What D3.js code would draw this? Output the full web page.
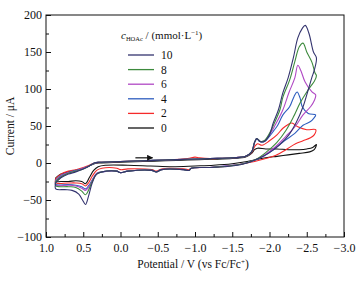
<!DOCTYPE html>
<html><head><meta charset="utf-8">
<script src="https://cdn.jsdelivr.net/npm/d3@7/dist/d3.min.js"></script>
<style>body{margin:0;background:#fff}svg{display:block}text{font-family:"Liberation Serif","Times New Roman",serif;fill:#111}</style>
</head><body><svg id="c" width="360" height="282"></svg>
<script>
// ---- data (potential V, current μA), each loop: forward scan then return scan ----
const concentrations = ["10", "8", "6", "4", "2", "0"];
const seriesColors = ["#34346f", "#3d8a3d", "#b048c4", "#2e5dbf", "#f52a2a", "#111111"];

const curve10 = [[0.87,-27],[0.80,-20],[0.70,-15],[0.60,-12],[0.50,-8],[0.42,-4],[0.35,0],[0.28,1],[0.0,2],[-0.3,3],[-0.6,4],[-0.9,5],[-1.2,6],[-1.5,7],[-1.68,9],[-1.76,15],[-1.80,28],[-1.83,33],[-1.87,29],[-1.93,29],[-2.0,38],[-2.05,54],[-2.12,72],[-2.18,95],[-2.25,115],[-2.32,142],[-2.38,169],[-2.44,182],[-2.48,186],[-2.53,175],[-2.59,150],[-2.63,142],
  [-2.60,125],[-2.57,116],[-2.52,99],[-2.45,76],[-2.36,55],[-2.26,38],[-2.14,25],[-2.0,14],[-1.85,6],[-1.70,0],[-1.5,-4],[-1.2,-6],[-0.95,-7],[-0.92,-10],[-0.85,-9],[-0.55,-9],[-0.48,-12],[-0.42,-10],[-0.1,-11],[0.0,-13],[0.05,-11],[0.25,-12],[0.32,-15],[0.38,-27],[0.43,-45],[0.47,-56],[0.51,-50],[0.56,-42],[0.65,-37],[0.75,-36],[0.87,-35]];
const curve8 = [[0.87,-25],[0.80,-19],[0.70,-14],[0.60,-11],[0.50,-8],[0.42,-4],[0.35,0],[0.28,1],[0.0,2],[-0.3,3],[-0.6,4],[-0.9,5],[-1.2,6],[-1.5,7],[-1.68,9],[-1.76,15],[-1.80,28],[-1.83,33],[-1.88,29],[-1.93,30],[-2.0,40],[-2.07,55],[-2.14,72],[-2.18,89],[-2.27,112],[-2.34,137],[-2.40,157],[-2.45,162],[-2.50,150],[-2.57,136],[-2.61,122],[-2.63,118],
  [-2.60,110],[-2.57,106],[-2.50,96],[-2.41,81],[-2.32,62],[-2.22,44],[-2.10,28],[-1.96,15],[-1.82,5],[-1.65,-1],[-1.45,-4],[-1.2,-6],[-0.95,-7],[-0.92,-10],[-0.85,-9],[-0.55,-9],[-0.48,-12],[-0.42,-10],[-0.1,-11],[0.0,-13],[0.05,-11],[0.25,-12],[0.32,-15],[0.38,-25],[0.43,-37],[0.47,-43],[0.52,-38],[0.60,-33],[0.70,-32],[0.87,-31]];
const curve6 = [[0.87,-24],[0.80,-18],[0.70,-13],[0.60,-11],[0.50,-7],[0.42,-4],[0.35,0],[0.28,1],[0.0,2],[-0.3,3],[-0.6,4],[-0.9,5],[-1.2,6],[-1.5,7],[-1.68,9],[-1.76,15],[-1.80,28],[-1.83,33],[-1.88,29],[-1.93,30],[-2.0,38],[-2.08,52],[-2.18,72],[-2.26,95],[-2.34,115],[-2.38,132],[-2.42,125],[-2.48,109],[-2.57,96],[-2.62,92],
  [-2.59,82],[-2.55,76],[-2.45,65],[-2.35,50],[-2.22,36],[-2.08,22],[-1.92,10],[-1.78,3],[-1.6,-2],[-1.4,-4],[-1.2,-6],[-0.95,-7],[-0.92,-10],[-0.85,-9],[-0.55,-9],[-0.48,-12],[-0.42,-10],[-0.1,-11],[0.0,-13],[0.05,-11],[0.25,-12],[0.32,-14],[0.38,-24],[0.43,-33],[0.47,-37],[0.52,-34],[0.60,-31],[0.70,-30],[0.87,-30]];
const curve4 = [[0.87,-23],[0.80,-17],[0.70,-13],[0.60,-10],[0.50,-7],[0.42,-4],[0.35,0],[0.28,1],[0.0,2],[-0.3,3],[-0.6,4],[-0.9,5],[-1.2,6],[-1.5,7],[-1.68,9],[-1.76,15],[-1.80,28],[-1.83,33],[-1.87,29],[-1.93,29],[-2.0,36],[-2.06,44],[-2.11,51],[-2.18,65],[-2.27,76],[-2.33,90],[-2.37,96],[-2.41,88],[-2.44,76],[-2.52,67],[-2.62,65],
  [-2.59,60],[-2.55,56],[-2.45,51],[-2.34,40],[-2.20,30],[-2.05,18],[-1.90,8],[-1.75,2],[-1.6,-2],[-1.4,-4],[-1.2,-6],[-0.95,-7],[-0.92,-10],[-0.85,-9],[-0.55,-9],[-0.48,-12],[-0.42,-10],[-0.1,-11],[0.0,-13],[0.05,-11],[0.25,-12],[0.32,-14],[0.38,-23],[0.43,-31],[0.47,-35],[0.52,-32],[0.60,-30],[0.70,-29],[0.87,-29]];
const curve2 = [[0.87,-21],[0.80,-15],[0.70,-11],[0.60,-9],[0.50,-6],[0.42,-3],[0.35,0],[0.28,1],[0.0,2],[-0.3,3],[-0.6,4],[-0.9,6],[-1.0,8],[-1.06,7],[-1.2,6],[-1.5,7],[-1.68,9],[-1.76,14],[-1.80,22],[-1.84,26],[-1.90,24],[-2.0,30],[-2.10,38],[-2.18,47],[-2.25,52],[-2.30,54],[-2.38,49],[-2.50,45],[-2.62,45],
  [-2.60,38],[-2.55,34],[-2.45,30],[-2.35,26],[-2.22,18],[-2.10,11],[-1.95,6],[-1.80,2],[-1.65,-1],[-1.45,-4],[-1.2,-6],[-0.95,-7],[-0.92,-9],[-0.85,-8],[-0.55,-8],[-0.48,-11],[-0.42,-9],[-0.1,-8],[0.0,-9],[0.05,-7],[0.25,-7],[0.32,-10],[0.38,-18],[0.43,-27],[0.47,-31],[0.52,-28],[0.60,-27],[0.70,-27],[0.87,-27]];
const curve0 = [[0.87,-20],[0.80,-15],[0.70,-12],[0.60,-10],[0.50,-7],[0.42,-4],[0.35,-1],[0.28,0],[0.0,1],[-0.3,2],[-0.6,3],[-0.9,4],[-1.2,5],[-1.5,6],[-1.68,8],[-1.76,13],[-1.80,18],[-1.84,20],[-1.95,19],[-2.1,19],[-2.25,18],[-2.4,18],[-2.5,19],[-2.58,21],[-2.63,25],
  [-2.60,18],[-2.54,15],[-2.40,13],[-2.25,11],[-2.10,9],[-1.95,7],[-1.80,4],[-1.70,2],[-1.5,-1],[-1.25,-3],[-1.0,-4],[-0.7,-5],[-0.4,-4],[-0.1,-3],[0.2,-3],[0.30,-5],[0.36,-10],[0.42,-20],[0.47,-28],[0.52,-25],[0.60,-24],[0.70,-25],[0.80,-25],[0.87,-25]];
const curves = [curve10, curve8, curve6, curve4, curve2, curve0];

const xTicks = [1.0, 0.5, 0.0, -0.5, -1.0, -1.5, -2.0, -2.5, -3.0];
const xMinorTicks = [0.75, 0.25, -0.25, -0.75, -1.25, -1.75, -2.25, -2.75];
const yTicks = [-100, -50, 0, 50, 100, 150, 200];
const yMinorTicks = [-75, -25, 25, 75, 125, 175];
const scanArrow = [[-0.2, 7], [-0.43, 7]];

// ---- layout ----
const L = 46, R = 344, T = 15, B = 237;
const svg = d3.select("#c");
const x = d3.scaleLinear().domain([1.0, -3.0]).range([L, R]);
const y = d3.scaleLinear().domain([-100, 200]).range([B, T]);
const fmt = d3.format(".1f");

// axes
const gx = svg.append("g").attr("transform", `translate(0,${B})`)
  .call(d3.axisBottom(x).tickValues(xTicks).tickFormat(fmt).tickSizeInner(-5).tickSizeOuter(0).tickPadding(6));
const gxm = svg.append("g").attr("transform", `translate(0,${B})`)
  .call(d3.axisBottom(x).tickValues(xMinorTicks).tickFormat("").tickSizeInner(-3).tickSizeOuter(0));
const gy = svg.append("g").attr("transform", `translate(${L},0)`)
  .call(d3.axisLeft(y).tickValues(yTicks).tickFormat(d3.format("d")).tickSizeInner(-5).tickSizeOuter(0).tickPadding(4));
const gym = svg.append("g").attr("transform", `translate(${L},0)`)
  .call(d3.axisLeft(y).tickValues(yMinorTicks).tickFormat("").tickSizeInner(-3).tickSizeOuter(0));
[gx, gxm, gy, gym].forEach(g => {
  g.select(".domain").remove();
  g.selectAll("line").attr("stroke", "#111");
  g.selectAll("text").attr("font-size", 12).attr("font-family", '"Liberation Serif",serif').attr("fill", "#111");
});

// curves
const line = d3.line().x(d => x(d[0])).y(d => y(d[1])).curve(d3.curveCatmullRom.alpha(0.5));
const order = [5, 4, 3, 2, 1, 0];
order.forEach(i => {
  const pts = curves[i].concat([curves[i][0]]);
  svg.append("path").attr("d", line(pts)).attr("fill", "none")
    .attr("stroke", seriesColors[i]).attr("stroke-width", 1.1).attr("stroke-linejoin", "round");
});

// frame
svg.append("rect").attr("x", L).attr("y", T).attr("width", R - L).attr("height", B - T)
  .attr("fill", "none").attr("stroke", "#111").attr("stroke-width", 1);

// scan arrow
svg.append("defs").append("marker").attr("id", "ah").attr("viewBox", "0 0 10 10")
  .attr("refX", 9).attr("refY", 5).attr("markerWidth", 6).attr("markerHeight", 5).attr("orient", "auto")
  .append("path").attr("d", "M0,0L10,5L0,10Z").attr("fill", "#111");
svg.append("line").attr("x1", x(scanArrow[0][0])).attr("y1", y(scanArrow[0][1]))
  .attr("x2", x(scanArrow[1][0])).attr("y2", y(scanArrow[1][1]))
  .attr("stroke", "#111").attr("stroke-width", 1.2).attr("marker-end", "url(#ah)");

// axis titles
svg.append("text").attr("transform", `translate(14,${(T + B) / 2}) rotate(-90)`)
  .attr("text-anchor", "middle").attr("font-size", 11.5).text("Current / μA");
const xt = svg.append("text").attr("x", (L + R) / 2 - 2).attr("y", 268).attr("text-anchor", "middle").attr("font-size", 11.5);
xt.append("tspan").text("Potential / V (vs Fc/Fc");
xt.append("tspan").attr("font-size", 7).attr("dy", -4).text("+");
xt.append("tspan").attr("dy", 4).text(")");

// legend
const lt = svg.append("text").attr("x", 121).attr("y", 39).attr("font-size", 11);
lt.append("tspan").attr("font-style", "italic").text("c");
lt.append("tspan").attr("font-size", 6.5).attr("dy", 2).text("HOAc");
lt.append("tspan").attr("dy", -2).text(" / (mmol·L");
lt.append("tspan").attr("font-size", 7).attr("dy", -4).text("−1");
lt.append("tspan").attr("dy", 4).text(")");
const legY = d3.scalePoint().domain(concentrations).range([55, 128]);
concentrations.forEach((c, i) => {
  svg.append("line").attr("x1", 128).attr("x2", 154).attr("y1", legY(c)).attr("y2", legY(c))
    .attr("stroke", seriesColors[i]).attr("stroke-width", 1.3);
  svg.append("text").attr("x", 161).attr("y", legY(c) + 4).attr("font-size", 11.5).text(c);
});
</script></body></html>
